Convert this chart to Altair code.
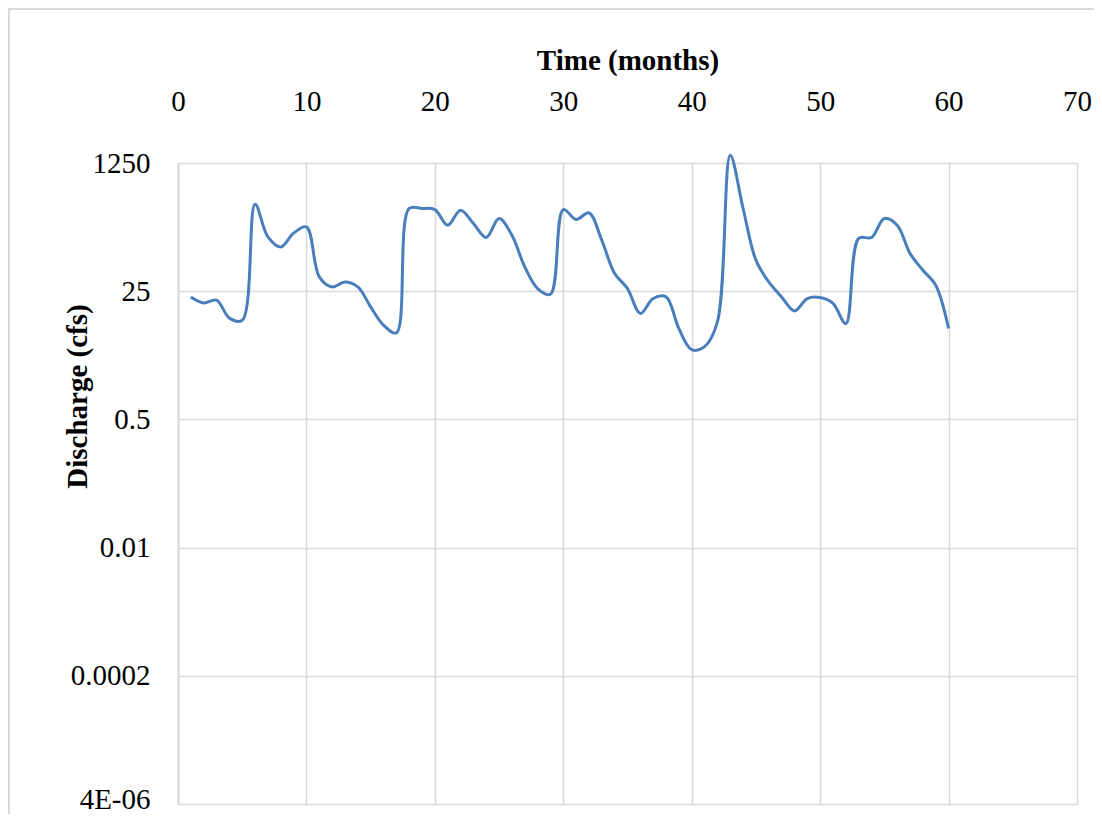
import altair as alt
import pandas as pd

months = list(range(1, 61))
discharge = [21.0, 17.5, 19.0, 11.0, 10.3, 356, 131, 96.6, 147, 178,
             38.7, 28.5, 33.2, 28.5, 15.5, 8.9, 7.0, 312, 312, 302,
             187, 296, 197, 129, 230, 138, 52.5, 27.1, 22.8, 302,
             223, 273, 118, 42.9, 27.1, 12.7, 20.0, 21.0, 8.0, 4.2,
             4.6, 9.8, 1585, 312, 64.4, 33.2, 21.0, 13.7, 20.0, 20.6,
             17.2, 9.3, 125, 129, 230, 187, 79, 47.4, 30.0, 8.0]

x_ticks = [0, 10, 20, 30, 40, 50, 60, 70]
y_ticks = [4e-06, 0.0002, 0.01, 0.5, 25, 1250]
y_labels = ["4E-06", "0.0002", "0.01", "0.5", "25", "1250"]

df = pd.DataFrame({"Month": months, "Discharge": discharge})

label_expr = " : ".join(
    f"datum.value < {v * 1.5} ? '{l}'" for v, l in zip(y_ticks, y_labels)
) + " : ''"

FONT = "Liberation Serif"
GRID = "#d9d9d9"
FS = 29

line = alt.Chart(df).mark_line(
    color="#4a7ebb", strokeWidth=3, interpolate="catmull-rom", clip=False
).encode(
    x=alt.X(
        "Month:Q",
        scale=alt.Scale(domain=[0, 70], nice=False, zero=False),
        axis=alt.Axis(
            orient="top", values=x_ticks, title="Time (months)",
            grid=True, gridColor=GRID, gridWidth=1.5,
            domain=False, ticks=False,
            labelFont=FONT, labelFontSize=FS, labelColor="black",
            labelPadding=47, labelFlush=False,
            titleFont=FONT, titleFontSize=FS, titleFontWeight="bold",
            titleColor="black", titlePadding=12,
        ),
    ),
    y=alt.Y(
        "Discharge:Q",
        scale=alt.Scale(type="log", base=50, domain=[4e-06, 1250], nice=False),
        axis=alt.Axis(
            values=y_ticks, labelExpr=label_expr, title="Discharge (cfs)",
            grid=True, gridColor=GRID, gridWidth=1.5,
            domain=True, domainColor=GRID, domainWidth=2, ticks=False,
            labelFont=FONT, labelFontSize=FS, labelColor="black",
            labelPadding=28, labelFlush=False,
            labelOffset=alt.condition("datum.value < 1e-5", alt.value(-5), alt.value(0)),
            titleFont=FONT, titleFontSize=FS, titleFontWeight="bold",
            titleColor="black", titleAngle=-90, titleX=-101, titleY=233,
            titleAlign="center", titleBaseline="middle",
        ),
    ),
)

frame = alt.Chart(df).mark_rect(
    fill=None, stroke=GRID, strokeWidth=2, clip=False
).encode(
    x=alt.value(-169), x2=alt.value(960),
    y=alt.value(-154), y2=alt.value(680),
)

chart = alt.layer(frame, line).properties(
    width=899, height=641,
    autosize=alt.AutoSizeParams(type="none"),
    padding={"left": 170, "top": 155, "right": 17, "bottom": 10},
).configure_view(stroke=None)

chart.save("out.html", embed_options={"renderer": "svg", "actions": False})
